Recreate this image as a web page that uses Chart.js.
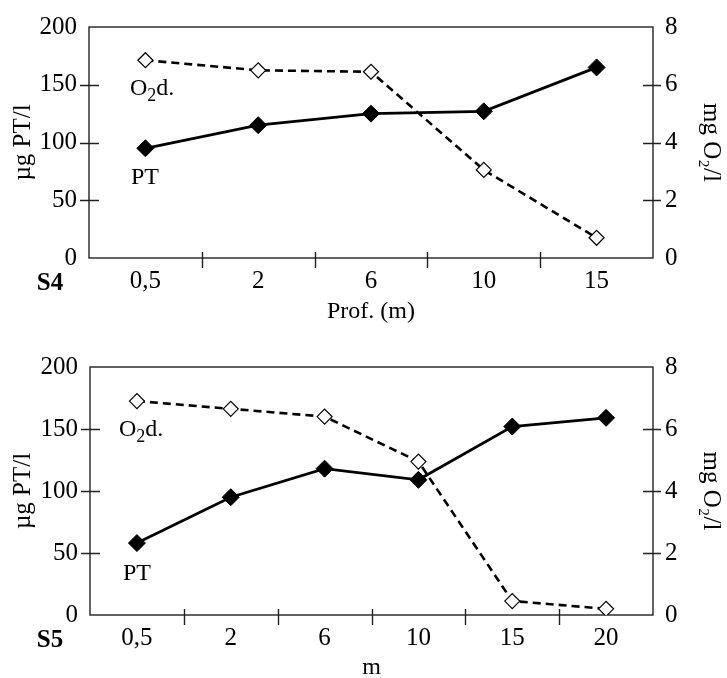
<!DOCTYPE html>
<html>
<head>
<meta charset="utf-8">
<script src="https://cdn.jsdelivr.net/npm/chart.js@4.4.1/dist/chart.umd.min.js"></script>
<style>
  html, body { margin: 0; padding: 0; background: #fff; overflow: hidden; }
  #wrap { position: relative; width: 727px; height: 678px; }
  canvas { position: absolute; left: 0; }
</style>
</head>
<body>
<div id="wrap">
  <canvas id="s4" width="727" height="330" style="top:0"></canvas>
  <canvas id="s5" width="727" height="342" style="top:340px"></canvas>
</div>
<script>
// station S4
const depthsS4 = ['0,5', '2', '6', '10', '15'];
const ptS4 = [95, 115, 125, 127, 165];
const o2S4 = [6.85, 6.5, 6.45, 3.05, 0.7];

// station S5
const depthsS5 = ['0,5', '2', '6', '10', '15', '20'];
const ptS5 = [58, 95, 118, 109, 152, 159];
const o2S5 = [6.9, 6.65, 6.4, 4.95, 0.45, 0.2];

// tick labels
const ptTicks = [0, 50, 100, 150, 200];
const o2Ticks = [0, 2, 4, 6, 8];

const SERIF = '"Liberation Serif", "Times New Roman", serif';

// box, crossing tick marks and the free text labels
const frame = {
  id: 'frame',
  beforeDatasetsDraw(chart) {
    const {ctx, chartArea: a, scales} = chart;
    ctx.save();
    ctx.strokeStyle = '#222';
    ctx.lineWidth = 1.4;
    ctx.strokeRect(a.left, a.top, a.right - a.left, a.bottom - a.top);
    ctx.beginPath();
    const x = scales.x;
    for (let i = 0; i < x.ticks.length - 1; i++) {
      const px = Math.round((x.getPixelForValue(i) + x.getPixelForValue(i + 1)) / 2) + 0.5;
      ctx.moveTo(px, a.bottom - 6);
      ctx.lineTo(px, a.bottom + 10);
    }
    const y = scales.y, y2 = scales.y2;
    y.ticks.forEach(t => {
      if (t.value > y.min && t.value < y.max) {
        const py = Math.round(y.getPixelForValue(t.value)) + 0.5;
        ctx.moveTo(a.left - 9, py);
        ctx.lineTo(a.left + 10, py);
      }
    });
    y2.ticks.forEach(t => {
      if (t.value > y2.min && t.value < y2.max) {
        const py = Math.round(y2.getPixelForValue(t.value)) + 0.5;
        ctx.moveTo(a.right - 10, py);
        ctx.lineTo(a.right + 8, py);
      }
    });
    ctx.stroke();
    ctx.restore();
  },
  afterDraw(chart, args, opts) {
    const {ctx, chartArea: a} = chart;
    ctx.save();
    ctx.fillStyle = '#000';
    ctx.textBaseline = 'middle';
    ctx.textAlign = 'center';
    ctx.font = 'bold 25px ' + SERIF;
    ctx.fillText(opts.station, 50, a.bottom + 26);

    ctx.textAlign = 'left';
    ctx.textBaseline = 'alphabetic';
    ctx.font = '24px ' + SERIF;
    // O2d. with a lowered 2
    let [ox, oy] = opts.o2Label;
    ctx.fillText('O', ox, oy);
    ox += ctx.measureText('O').width;
    ctx.font = '18px ' + SERIF;
    ctx.fillText('2', ox, oy + 6);
    ox += ctx.measureText('2').width;
    ctx.font = '24px ' + SERIF;
    ctx.fillText('d.', ox, oy);

    ctx.fillText('PT', opts.ptLabel[0], opts.ptLabel[1]);
    ctx.restore();
  }
};

function makeChart(id, labels, pt, o2, opt) {
  return new Chart(document.getElementById(id), {
    type: 'line',
    data: {
      labels: labels,
      datasets: [{
        label: 'PT',
        data: pt,
        yAxisID: 'y',
        borderColor: '#000',
        borderWidth: 2.8,
        pointStyle: 'rectRot',
        pointRadius: 8.5,
        pointBackgroundColor: '#000',
        pointBorderColor: '#000',
        pointBorderWidth: 1,
        tension: 0
      }, {
        label: 'O2d.',
        data: o2,
        yAxisID: 'y2',
        borderColor: '#000',
        borderWidth: 2.6,
        borderDash: [8, 5],
        pointStyle: 'rectRot',
        pointRadius: 7.5,
        pointBackgroundColor: '#fff',
        pointBorderColor: '#000',
        pointBorderWidth: 1.2,
        tension: 0
      }]
    },
    options: {
      responsive: false,
      animation: false,
      layout: {padding: {top: opt.padTop, left: 0, right: 0, bottom: 0}},
      plugins: {
        legend: {display: false},
        tooltip: {enabled: false},
        frame: {station: opt.station, o2Label: opt.o2Label, ptLabel: opt.ptLabel}
      },
      scales: {
        x: {
          type: 'category',
          offset: true,
          grid: {display: false, drawTicks: false},
          border: {display: false},
          ticks: {color: '#000', padding: 8, font: {family: SERIF, size: 25}, maxRotation: 0, autoSkip: false},
          title: {display: true, text: opt.xTitle, color: '#000', font: {family: SERIF, size: 24}, padding: {top: 0, bottom: opt.xTitlePad}},
          afterFit: s => { s.height = opt.xHeight; }
        },
        y: {
          position: 'left',
          min: 0, max: 200,
          afterBuildTicks: s => { s.ticks = ptTicks.map(v => ({value: v})); },
          grid: {display: false, drawTicks: false},
          border: {display: false},
          ticks: {color: '#000', padding: 12, font: {family: SERIF, size: 25}},
          title: {display: true, text: 'µg PT/l', color: '#000', font: {family: SERIF, size: 25}, padding: {top: 8, bottom: 0}},
          afterFit: s => { s.width = opt.leftWidth; }
        },
        y2: {
          position: 'right',
          min: 0, max: 8,
          afterBuildTicks: s => { s.ticks = o2Ticks.map(v => ({value: v})); },
          grid: {display: false, drawTicks: false},
          border: {display: false},
          ticks: {color: '#000', padding: 12, font: {family: SERIF, size: 25}},
          title: {display: true, text: 'mg O₂/l', color: '#000', font: {family: SERIF, size: 25}, padding: {top: 1, bottom: 0}},
          afterFit: s => { s.width = 74; }
        }
      }
    },
    plugins: [frame]
  });
}

makeChart('s4', depthsS4, ptS4, o2S4, {
  station: 'S4', xTitle: 'Prof. (m)', padTop: 24, xHeight: 72, xTitlePad: 4,
  leftWidth: 89, o2Label: [130, 95], ptLabel: [131, 184]
});
makeChart('s5', depthsS5, ptS5, o2S5, {
  station: 'S5', xTitle: 'm', padTop: 21, xHeight: 67, xTitlePad: 0,
  leftWidth: 90, o2Label: [119, 96], ptLabel: [123, 240]
});
</script>
</body>
</html>
